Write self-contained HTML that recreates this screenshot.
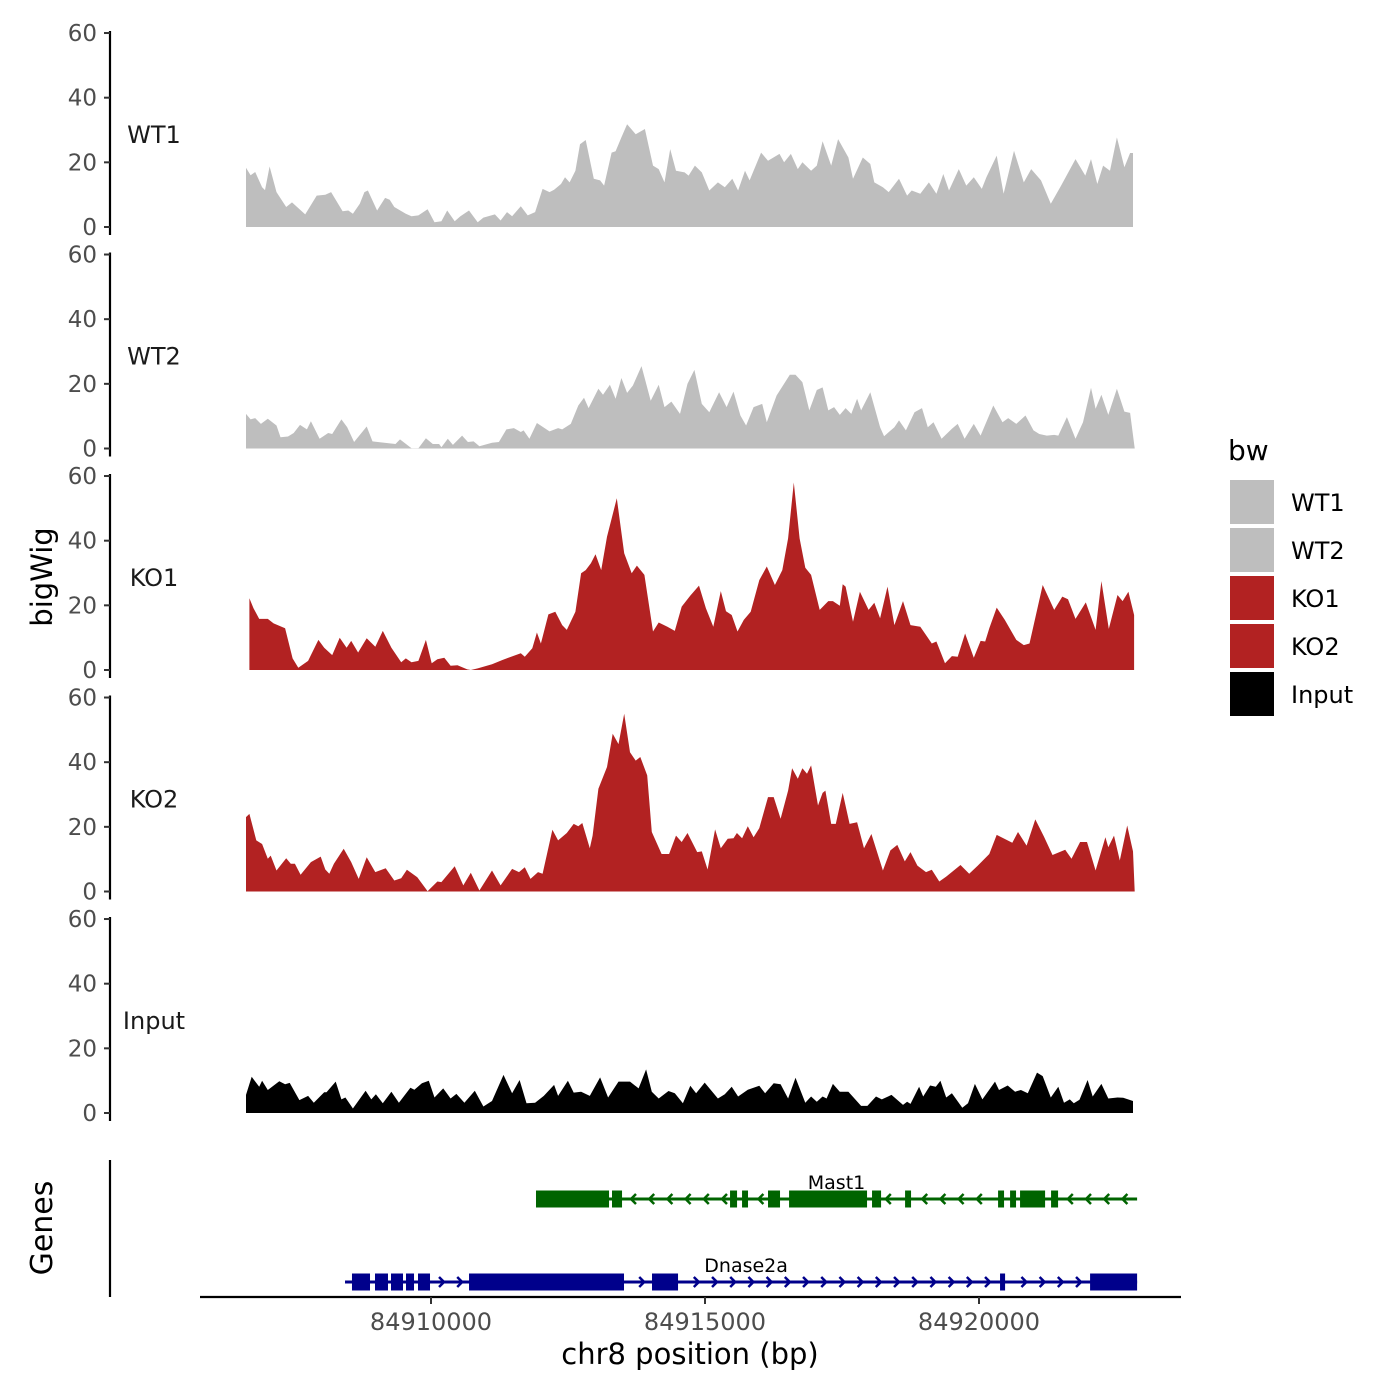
<!DOCTYPE html>
<html><head><meta charset="utf-8"><style>
html,body{margin:0;padding:0;background:#fff;}
svg{display:block;font-family:"DejaVu Sans","Liberation Sans",sans-serif;}
</style></head><body>
<svg id="chart" width="1400" height="1400" viewBox="0 0 1400 1400" xmlns="http://www.w3.org/2000/svg">
<rect width="1400" height="1400" fill="#fff"/>
<g id="tracks"></g>
<g id="axes"></g>
<g id="genes"></g>
<text x="52" y="577" font-size="29" transform="rotate(-90 52 577)" text-anchor="middle">bigWig</text>
<text x="52" y="1228" font-size="30" transform="rotate(-90 52 1228)" text-anchor="middle">Genes</text>
<text x="690" y="1364" font-size="29" text-anchor="middle">chr8 position (bp)</text>
<g>
<text x="1228" y="460" font-size="28">bw</text>
<g id="legend"></g>
</g>
</svg>
<script>
// region / bin definition
const binOrigin = 84906498;
const binWidth = 10.49;
const xTicks = [84910000, 84915000, 84920000];
const xTickLabels = ["84910000", "84915000", "84920000"];
const yTicks = [0, 20, 40, 60];
const trackNames = ["WT1", "WT2", "KO1", "KO2", "Input"];
const trackColors = ["#bebebe", "#bebebe", "#b22222", "#b22222", "#000000"];

const wt1Bins = [12,20,28,40,45,53,65,82,92,115,135,150,160,180,190,198,210,218,224,240,254,262,270,290,300,312,328,340,352,362,375,385,400,415,425,445,455,466,475,490,502,515,528,540,548,560,567,575,585,593,603,617,628,635,648,655,665,675,690,706,720,730,740,750,760,775,782,793,805,818,833,845,858,868,880,888,908,920,940,948,960,972,980,995,1005,1015,1030,1042,1060,1068,1085,1098,1105,1120,1130,1148,1162,1170,1185,1200,1213,1225,1235,1252,1265,1278,1292,1300,1318,1330,1348,1365,1378,1395,1412,1430,1455,1472,1482,1493,1503,1515,1527,1540,1550,1555];
const wt1Vals = [18.3,16,17,12.3,11.4,18.7,10.8,6.2,7.6,3.9,9.7,10,10.8,4.9,5.1,4.1,7.2,10.8,11.3,5.1,9,8.4,6.2,4.1,3.3,3.6,5.5,1.5,1.8,5.1,1.8,3.3,5.1,1.5,2.9,3.9,2,4.6,3.3,6.4,3.6,4.6,11.8,10.8,11.5,13.3,15.4,13.8,17.4,25.6,26.9,14.9,14.4,12.8,23,23.4,27.7,31.8,28.7,30.3,19,17.9,13.8,24.1,17.4,16.9,15.9,19,16.9,11.3,13.8,12.3,14.9,11.3,17.4,14.4,23,20.5,22.6,20,22.6,17.9,20,17.4,19,26.5,19,27.2,21.5,14.9,21.5,19.5,13.8,12.3,10.8,14.9,9.7,11.3,10.3,13.8,10.3,16.4,11.3,17.9,12.8,15.4,11.8,15.4,22.1,10.3,23.6,13.8,17.9,14.4,7.2,12.8,21,15.9,21,13.3,19,17.4,27.7,18.5,22.9,22.9];

const wt2Bins = [12,20,28,38,50,65,72,85,95,106,118,125,140,155,162,178,188,200,222,232,272,280,300,312,325,337,348,352,363,372,388,398,408,418,440,452,465,478,490,495,505,518,540,555,562,577,590,600,608,625,633,645,655,665,675,685,700,716,730,740,752,767,780,792,805,818,835,848,860,872,882,895,910,918,935,958,968,980,992,1005,1015,1025,1035,1045,1055,1065,1075,1082,1098,1115,1122,1140,1148,1160,1175,1188,1198,1208,1222,1240,1250,1262,1278,1290,1312,1328,1338,1352,1368,1382,1392,1405,1418,1425,1440,1455,1468,1482,1490,1500,1512,1527,1540,1550,1558];
const wt2Vals = [10.7,9,9.4,7.6,9.2,7.1,3.5,3.7,4.8,7.3,5.9,8.4,3,4.8,4.5,9,6.6,2,6.8,2.2,1.4,2.8,0.1,0.1,3.2,1.4,1.4,0.4,3,1.1,4,2,2.2,0.7,1.8,2,5.9,6.3,5.1,5.6,3,7.9,5.3,6.3,5.9,7.6,13.3,15.7,12.5,18.5,16.6,19.7,15.4,21.8,17.2,19.5,25.5,14.8,19.7,12.8,14.5,10.7,20,24.3,13.8,11.2,17.4,12.8,17.6,10.2,7.1,12.8,13.8,8.1,16.4,22.8,22.8,20.5,11.8,18.1,18.9,11.8,12.8,10.4,12.5,10.7,15.4,11.8,17.4,6.6,3.8,6.6,8.7,5.6,11.2,12.5,6.6,8.1,3,6.1,7.6,3,7.6,4,13.3,8.1,9.4,7.6,10.2,5.6,4.5,4,4.2,4,9.7,3,8.1,18.8,12.3,16.6,10.4,18.5,11.4,11,0.1];

const ko1Bins = [18,25,35,50,60,80,93,103,120,138,148,162,175,187,195,207,222,237,250,265,282,290,300,312,325,335,345,357,368,380,397,403,415,440,458,490,497,510,518,525,538,550,562,570,585,595,603,612,620,630,640,657,670,683,692,705,720,730,745,758,770,785,800,812,825,838,847,857,867,878,890,905,918,932,945,955,965,975,985,995,1010,1025,1033,1045,1050,1055,1068,1080,1095,1105,1115,1128,1140,1155,1168,1185,1205,1213,1228,1240,1250,1263,1278,1290,1298,1305,1318,1332,1352,1365,1375,1398,1418,1432,1442,1455,1473,1490,1500,1513,1528,1537,1547,1557];
const ko1Vals = [22.2,19.1,15.8,15.8,14.4,12.9,3.6,0.7,2.8,9.3,6.9,4.6,10,6.9,9,5.4,9.8,7.2,12.1,6.9,2.4,3.6,2.4,2.8,9.3,2.1,3.3,3.8,1.3,1.5,0.2,0,0.5,1.8,3.1,5.2,4.1,6.7,11.6,8.2,17.2,18,13.9,12.4,18,29.9,30.9,33,35.8,30.9,41.2,53.1,36.1,29.9,32.3,29.4,11.9,14.7,13.4,12.1,19.6,23,26.1,19.1,13.4,24.4,18.2,17,11.9,15.5,18,27.8,32,26.3,30.9,40.7,58,40.7,31.6,29.4,18.6,21.3,21.3,19.9,26.5,25.8,14.9,24.2,18.6,20.8,16,25.8,13.9,21.3,13.9,13.4,8.2,8.8,2.1,4.3,4.1,11.3,3.8,9,8.8,12.9,19.3,15.5,9.3,7.7,8.2,26.3,18.6,22.7,21.9,15.8,20.9,12.4,27.5,12.7,23.2,21.3,24.2,17];

const ko2Bins = [12,18,30,40,50,55,65,82,90,97,107,125,142,150,157,165,182,195,208,222,237,255,270,282,292,310,328,345,352,375,390,403,418,440,455,475,487,497,507,520,528,545,555,570,582,590,597,610,615,625,640,650,660,670,680,690,698,710,718,735,748,760,770,780,797,805,815,828,838,850,860,866,875,885,895,905,920,930,942,955,962,972,980,988,995,1007,1015,1020,1030,1038,1050,1062,1075,1087,1100,1120,1133,1145,1158,1168,1180,1195,1205,1218,1230,1255,1270,1285,1305,1318,1345,1355,1370,1385,1400,1415,1437,1448,1463,1475,1490,1507,1512,1522,1532,1545,1555,1558];
const ko2Vals = [23,24,15.8,14.7,10.1,11.1,6.5,10.3,8.6,8.6,5.2,9.1,10.8,6.8,5.5,8.6,13.2,9.1,3.9,10.6,6,7.2,3.4,4.1,6.7,4.4,0.1,3.1,2.9,7.8,1.9,5.8,0.3,6.5,1.9,7,6,7.5,3.9,6,5.5,19.1,15.8,18.1,20.9,20.2,21.2,13.4,17.3,31.8,38.5,48.8,45.6,55,43.1,40.5,41.6,35.9,18.4,11.6,11.6,17.3,15.3,18.1,12.2,12.4,6.8,19.2,13.4,16.3,16.5,18.1,16.5,20.2,16.8,19.6,29.2,29.2,22.5,31.2,38.1,34.9,38.1,36.4,39,26.6,30.5,31.2,20.9,20.9,30.5,20.9,21.4,13.4,17.8,6.5,12.7,14.4,9.3,12.2,8,6,6.7,3.1,4.6,8.2,5.5,8,11.6,17.5,15.1,18.4,14.2,22.3,17,11.3,12.9,10.1,15.3,15.3,6.5,16.8,13.7,17.3,9.6,20.4,12.4,0];

const inputBins = [12,22,35,40,50,70,80,88,105,120,130,148,152,168,178,185,198,220,230,238,250,265,278,298,305,318,330,340,355,368,378,392,410,425,440,460,475,488,500,515,530,548,555,572,582,595,610,628,642,660,680,695,708,718,730,747,758,772,785,795,810,833,845,857,868,885,905,915,930,942,955,968,985,995,1005,1015,1022,1033,1045,1060,1082,1093,1108,1118,1135,1155,1162,1168,1183,1190,1202,1212,1220,1230,1240,1258,1268,1280,1293,1315,1322,1337,1350,1360,1372,1388,1398,1412,1425,1435,1445,1452,1462,1476,1485,1500,1512,1528,1538,1555];
const inputVals = [5.6,11.2,8.1,10,7.1,9.8,8.9,9.3,4,5.3,3.2,6.4,6.4,9.7,4.2,4.8,1.4,6.9,4.2,5.8,3,6.6,3.2,7.8,7.2,9.2,10,4.8,7.6,4.5,5.9,3.2,6.9,2,3.7,11.8,6.1,10.2,3,3.2,5.3,8.7,5.3,10,6.3,6.6,5.3,11,4.8,9.7,9.7,7.6,13.5,6.6,4.5,6.8,6.1,3,8.4,6.1,9.4,4.5,5.8,8.1,5.1,7.2,8.4,6.1,9.2,8.9,4.5,10.9,3.2,5.1,3.5,5.1,4.5,9,6.6,6.6,2.2,2.2,5.1,4.2,5.6,2.5,3.5,2.8,8.1,5.1,8.5,8.1,10,4.8,6.1,1.6,3,9,4.2,9.7,7.1,8.5,6.6,7.1,6.1,12.5,11.4,4.8,8.1,3.2,4.2,3,4.1,10.2,5.1,9,4.5,4.8,4.7,3.7];

// genes
const mast1Start = 84911916, mast1End = 84922885;
const mast1ExonStarts = [84911916,84913303,84915457,84915676,84916150,84916534,84918048,84918651,84920348,84920567,84920749,84921315];
const mast1ExonEnds   = [84913249,84913486,84915585,84915785,84916369,84917957,84918213,84918760,84920457,84920676,84921206,84921443];
const dnaseStart = 84908431, dnaseEnd = 84922885;
const dnaseExonStarts = [84908558,84908978,84909270,84909544,84909763,84910694,84914033,84920384,84922027];
const dnaseExonEnds   = [84908887,84909215,84909489,84909690,84909982,84913522,84914508,84920476,84922885];

const NS = "http://www.w3.org/2000/svg";
function mk(tag, attrs, parent){const e=document.createElementNS(NS,tag);for(const k in attrs)e.setAttribute(k,attrs[k]);parent.appendChild(e);return e;}
function xScale(bp){return 431 + (bp - 84910000) * 0.0548;}
function binToBp(b){return binOrigin + b * binWidth;}
const bases = [227, 448.5, 670, 891.5, 1113];
function yScale(panel, v){return bases[panel] - v * 3.233;}

const tracksG = document.getElementById("tracks");
const axesG = document.getElementById("axes");
const allBins = [wt1Bins, wt2Bins, ko1Bins, ko2Bins, inputBins];
const allVals = [wt1Vals, wt2Vals, ko1Vals, ko2Vals, inputVals];

for (let p = 0; p < 5; p++) {
  const bins = allBins[p], vals = allVals[p];
  let d = "M" + xScale(binToBp(bins[0])).toFixed(1) + "," + bases[p];
  for (let i = 0; i < bins.length; i++) d += "L" + xScale(binToBp(bins[i])).toFixed(1) + "," + yScale(p, vals[i]).toFixed(1);
  d += "L" + xScale(binToBp(bins[bins.length-1])).toFixed(1) + "," + bases[p] + "Z";
  const path = mk("path", {d: d, fill: trackColors[p]}, tracksG);
  
  

  const lbl = mk("text", {x: 154, y: yScale(p, 28.5) + 8, "font-size": 24, "text-anchor": "middle", fill: "#1a1a1a"}, axesG);
  lbl.textContent = trackNames[p];
  
  

  const ax = mk("line", {x1: 110, x2: 110, y1: yScale(p, 60) - 2, y2: bases[p] + 8, stroke: "#000", "stroke-width": 2.2}, axesG);
  
  
  for (const t of yTicks) {
    const y = yScale(p, t);
    const tk = mk("line", {x1: 104, x2: 110, y1: y, y2: y, stroke: "#333", "stroke-width": 2}, axesG);
    
    
    const tl = mk("text", {x: 97, y: y + 8, "font-size": 23, "text-anchor": "end", fill: "#4d4d4d"}, axesG);
    tl.textContent = String(t);
    
    
  }
}

// gene panel axes
const ga = mk("line", {x1: 110, x2: 110, y1: 1160, y2: 1297, stroke: "#000", "stroke-width": 2.2}, axesG);


const xa = mk("line", {x1: 200, x2: 1181, y1: 1297, y2: 1297, stroke: "#000", "stroke-width": 2.2}, axesG);


for (let i = 0; i < xTicks.length; i++) {
  const x = xScale(xTicks[i]);
  const tk = mk("line", {x1: x, x2: x, y1: 1297, y2: 1304, stroke: "#333", "stroke-width": 2}, axesG);
  
  
  const tl = mk("text", {x: x, y: 1330, "font-size": 24, "text-anchor": "middle", fill: "#4d4d4d"}, axesG);
  tl.textContent = xTickLabels[i];
  
  
}

// genes
const genesG = document.getElementById("genes");
function drawGene(name, start, end, es, ee, y, color, dir, labelBp) {
  const g = mk("g", {}, genesG);
  
  
  mk("line", {x1: xScale(start), x2: xScale(end), y1: y, y2: y, stroke: color, "stroke-width": 3}, g);
  const exX = [];
  for (let i = 0; i < es.length; i++) {
    const x1 = xScale(es[i]), x2 = xScale(ee[i]);
    exX.push([x1, x2]);
    const r = mk("rect", {x: x1, y: y - 8.5, width: Math.max(x2 - x1, 3), height: 17, fill: color}, g);
    
    
  }
  const xs = xScale(start), xe = xScale(end);
  for (let x = xs + 6; x < xe - 2; x += 18.2) {
    if (exX.some(e => x > e[0] - 4 && x < e[1] + 4)) continue;
    const d = dir > 0 ? `M${x-3},${y-5}L${x+2},${y}L${x-3},${y+5}` : `M${x+3},${y-5}L${x-2},${y}L${x+3},${y+5}`;
    mk("path", {d: d, fill: "none", stroke: color, "stroke-width": 2.5}, g);
  }
  const t = mk("text", {x: xScale(labelBp), y: y - 10, "font-size": 19, "text-anchor": "middle", fill: "#000"}, g);
  t.textContent = name;
  
  
}
drawGene("Mast1", mast1Start, mast1End, mast1ExonStarts, mast1ExonEnds, 1199, "#006400", -1, 84917400);
drawGene("Dnase2a", dnaseStart, dnaseEnd, dnaseExonStarts, dnaseExonEnds, 1282, "#00008b", 1, 84915750);

// legend
const legG = document.getElementById("legend");
const legendLabels = ["WT1", "WT2", "KO1", "KO2", "Input"];
for (let i = 0; i < 5; i++) {
  const y = 480 + i * 48;
  const r = mk("rect", {x: 1230, y: y, width: 44, height: 44, fill: trackColors[i]}, legG);
  
  
  const t = mk("text", {x: 1291, y: y + 31, "font-size": 24, fill: "#000"}, legG);
  t.textContent = legendLabels[i];
  
  
}
</script>
</body></html>
